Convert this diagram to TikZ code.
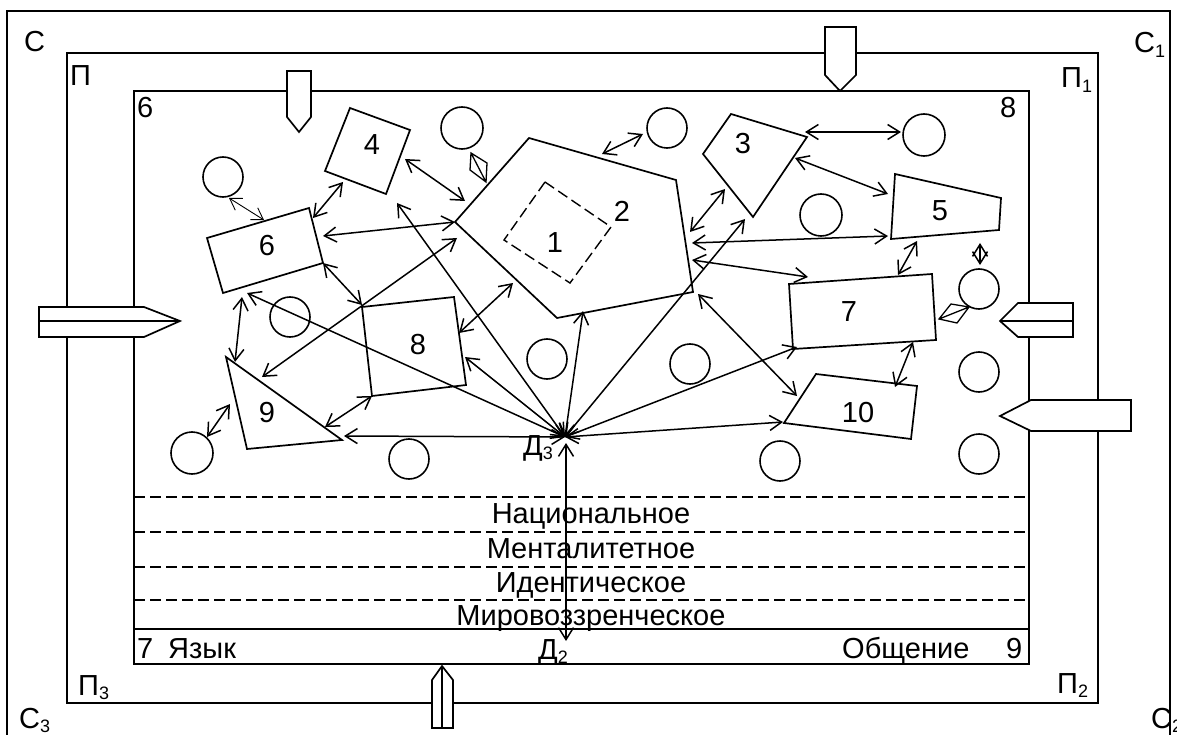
\documentclass[tikz,border=0pt]{standalone}
\usepackage{fontspec}
\setmainfont{Liberation Sans}
\usetikzlibrary{arrows.meta}
\newcommand\sbs[1]{\raisebox{-0.3ex}{\fontsize{18}{19}\selectfont #1}}
\begin{document}
\begin{tikzpicture}[x=1pt,y=-1pt,line join=miter,
  frame/.style={draw,line width=1.7pt},
  shp/.style={draw,line width=1.7pt},
  blk/.style={draw,fill=white,line width=1.7pt},
  circ/.style={draw,circle,line width=1.6pt,minimum size=40pt,inner sep=0pt},
  conn/.style={draw,line width=1.5pt,{Straight Barb[length=12pt,width=15pt]}-{Straight Barb[length=12pt,width=15pt]}},
  thin/.style={draw,line width=0.9pt,{Straight Barb[length=11pt,width=14pt]}-{Straight Barb[length=11pt,width=14pt]}},
  lbl/.style={inner sep=0pt,font=\fontsize{29}{34}\selectfont},
  dsh/.style={draw,line width=1.1pt,dash pattern=on 11pt off 5pt}]
\useasboundingbox (0,0) rectangle (1177,735);
% frames
\draw[frame] (7,745) -- (7,11) -- (1170,11) -- (1170,745);
\draw[frame] (67,53) rectangle (1098,703);
\draw[frame] (134,91) rectangle (1029,664);
\draw[frame] (134,629) -- (1029,629);
\foreach \yy in {497,532,567,600} \draw[dsh] (134,\yy) -- (1029,\yy);
% block arrows
\draw[blk] (39,307) -- (144,307) -- (180,321) -- (144,337) -- (39,337) -- cycle;
\draw[line width=1.4pt] (39,321) -- (180,321);
\draw[blk] (1073,303) -- (1018,303) -- (1000,321) -- (1018,337) -- (1073,337) -- cycle;
\draw[line width=1.4pt] (1000,321) -- (1073,321);
\draw[blk] (1131,400) -- (1031,400) -- (1000,416) -- (1031,431) -- (1131,431) -- cycle;
\draw[blk] (287,71) -- (311,71) -- (311,117) -- (299,132) -- (287,117) -- cycle;
\draw[blk] (825,27) -- (856,27) -- (856,75) -- (840,91) -- (825,75) -- cycle;
\draw[blk] (442,666) -- (453,680) -- (453,728) -- (432,728) -- (432,680) -- cycle;
\draw[line width=1.2pt] (442,666) -- (442,728);
% corner labels
\node[lbl,anchor=base west] (tC) at (24,52) {С};
\node[lbl,anchor=base west] (tP) at (70,86) {П};
\node[lbl,anchor=base west] (t6) at (137,118) {6};
\node[lbl,anchor=base west] (tC1) at (1134,53) {С\sbs{1}};
\node[lbl,anchor=base west] (tP1) at (1061,88) {П\sbs{1}};
\node[lbl,anchor=base west] (t8) at (1000,118) {8};
\node[lbl,anchor=base west] (tC3) at (19,728) {С\sbs{3}};
\node[lbl,anchor=base west] (tP3) at (78,695) {П\sbs{3}};
\node[lbl,anchor=base west] (tP2) at (1057,693) {П\sbs{2}};
\node[lbl,anchor=base west] (tC2) at (1151,728) {С\sbs{2}};
% layer texts
\node[lbl,anchor=base] (nat) at (591,523) {Национальное};
\node[lbl,anchor=base] (men) at (591,558) {Менталитетное};
\node[lbl,anchor=base] (ide) at (591,592) {Идентическое};
\node[lbl,anchor=base] (mir) at (591,625) {Мировоззренческое};
\node[lbl,anchor=base west] (r7) at (137,658) {7};
\node[lbl,anchor=base west] (yaz) at (168,658) {Язык};
\node[lbl,anchor=base west] (obs) at (842,658) {Общение};
\node[lbl,anchor=base west] (r9) at (1006,658) {9};
\node[lbl,anchor=base west] (d2) at (538,659) {Д\sbs{2}};
\node[lbl,anchor=base west] (d3) at (523,455) {Д\sbs{3}};
% shapes
\draw[dsh,line width=1.4pt] (545,182) -- (611,227) -- (570,283) -- (504,240) -- cycle;
\draw[shp] (529,138) -- (676,180) -- (693,292) -- (557,318) -- (455,222) -- cycle;
\draw[shp] (731,114) -- (807,137) -- (753,217) -- (703,154) -- cycle;
\draw[shp] (350,108) -- (410,130) -- (386,194) -- (325,171) -- cycle;
\draw[shp] (895,174) -- (1001,198) -- (999,230) -- (891,239) -- cycle;
\draw[shp] (207,238) -- (309,208) -- (323,263) -- (223,293) -- cycle;
\draw[shp] (789,284) -- (932,274) -- (936,340) -- (793,349) -- cycle;
\draw[shp] (362,307) -- (454,297) -- (466,385) -- (372,396) -- cycle;
\draw[shp] (226,357) -- (342,440) -- (247,449) -- cycle;
\draw[shp] (816,374) -- (917,386) -- (911,439) -- (784,423) -- cycle;
\node[lbl] (n1) at (555,243) {1};
\node[lbl] (n2) at (622,211) {2};
\node[lbl] (n3) at (743,144) {3};
\node[lbl] (n4) at (372,145) {4};
\node[lbl] (n5) at (940,211) {5};
\node[lbl] (n6) at (267,246) {6};
\node[lbl] (n7) at (849,312) {7};
\node[lbl] (n8) at (418,345) {8};
\node[lbl] (n9) at (267,413) {9};
\node[lbl] (n10) at (858,413) {10};
% circles
\node[circ] (k1) at (223,177) {};
\node[circ,minimum size=42pt] (k2) at (462,128) {};
\node[circ] (k3) at (667,128) {};
\node[circ,minimum size=42pt] (k4) at (924,135) {};
\node[circ,minimum size=42pt] (k5) at (821,215) {};
\node[circ] (k6) at (979,289) {};
\node[circ] (k7) at (290,317) {};
\node[circ] (k8) at (547,359) {};
\node[circ] (k9) at (690,364) {};
\node[circ] (k10) at (979,372) {};
\node[circ,minimum size=42pt] (k11) at (192,453) {};
\node[circ] (k12) at (409,459) {};
\node[circ] (k13) at (780,461) {};
\node[circ] (k14) at (979,454) {};
% small kites
\draw[line width=1.3pt] (471,153) -- (487,163) -- (486,182) -- (470,170) -- cycle (471,153) -- (486,182);
\draw[line width=1.3pt] (939,319) -- (951,304) -- (969,307) -- (957,323) -- cycle (939,319) -- (969,307);
% connector end points
\coordinate (D3) at (565,437);
\coordinate (D2) at (566,641);
\coordinate (D3b) at (566,443);
\coordinate (e6) at (247,293);
\coordinate (e4) at (397,203);
\coordinate (e8) at (465,357);
\coordinate (e9) at (344,436);
\coordinate (e2) at (583,311);
\coordinate (e3) at (745,219);
\coordinate (e7) at (797,347);
\coordinate (e10) at (783,422);
% connectors from D3
\foreach \t in {e6,e4,e8,e9,e2,e3,e7,e10} \draw[conn] (D3) -- (\t);
\draw[conn] (D3b) -- (D2);
% other connectors
\draw[thin] (229,198) -- (264,220);
\draw[conn] (343,182) -- (313,218);
\draw[conn] (323,236) -- (455,222);
\draw[conn] (405,159) -- (465,201);
\draw[conn] (602,154) -- (643,134);
\draw[conn] (805,132) -- (901,132);
\draw[conn] (795,158) -- (888,194);
\draw[conn] (690,232) -- (725,189);
\draw[conn] (692,243) -- (888,236);
\draw[conn] (692,260) -- (808,277);
\draw[conn] (917,241) -- (898,275);
\draw[conn] (913,342) -- (895,387);
\draw[conn] (698,294) -- (797,396);
\draw[conn] (323,263) -- (362,305);
\draw[conn] (242,297) -- (235,362);
\draw[conn] (262,377) -- (457,238);
\draw[conn] (372,396) -- (325,427);
\draw[conn] (207,437) -- (230,404);
\draw[conn] (459,333) -- (513,283);
\draw[conn] (980,243) -- (980,265);
\end{tikzpicture}
\end{document}
